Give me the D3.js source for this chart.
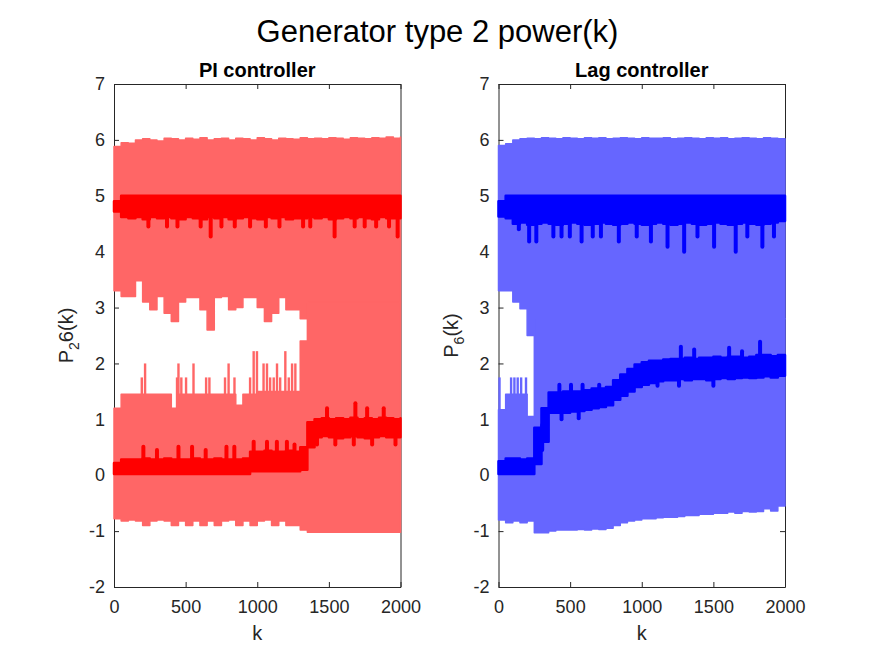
<!DOCTYPE html>
<html>
<head>
<meta charset="utf-8">
<script src="https://cdn.jsdelivr.net/npm/d3@7"></script>
<style>
body { margin: 0; background: #fff; }
svg text { font-family: "Liberation Sans", Arial, Helvetica, sans-serif; }
</style>
</head>
<body>
<div id="container"></div>
<script>
// sample grid for k (every 50 steps), shared by both panels
const K = [0,50,100,150,200,250,300,350,400,450,
           500,550,600,650,700,750,800,850,900,950,
           1000,1050,1100,1150,1200,1250,1300,1350,1400,1450,
           1500,1550,1600,1650,1700,1750,1800,1850,1900,1950,
           2000];

const xTicks = [0,500,1000,1500,2000];
const yTicks = [-2,-1,0,1,2,3,4,5,6,7];

// ---- PI controller ----
// light band: top edge, bottom of upper part, top of lower part, bottom edge
const piTop = [5.88,5.95,5.94,6.00,6.02,6.00,5.98,6.03,6.02,6.00,
               6.03,6.01,6.04,6.00,6.02,6.03,6.00,6.03,6.02,6.00,
               6.04,6.02,6.00,6.03,6.02,6.01,6.04,6.02,6.03,6.02,
               6.04,6.03,6.01,6.04,6.03,6.02,6.04,6.03,6.05,6.03,
               6.05];
const piGapHi = [3.30,3.20,3.20,3.48,3.10,2.96,3.20,2.90,2.75,3.10,
                 3.18,3.18,2.96,2.60,3.18,3.20,2.96,3.00,3.18,3.18,
                 3.00,2.75,2.90,3.18,2.96,2.96,2.80,3.10,3.10,3.10,
                 3.10,3.10,3.10,3.10,3.10,3.10,3.10,3.10,3.10,3.10,
                 3.10];
const piGapLo = [1.20,1.45,1.45,1.45,1.45,1.45,1.45,1.45,1.20,1.45,
                 1.45,1.45,1.45,1.45,1.45,1.45,1.45,1.25,1.45,1.45,
                 1.50,1.50,1.50,1.50,1.50,1.50,2.40,3.10,3.10,3.10,
                 3.10,3.10,3.10,3.10,3.10,3.10,3.10,3.10,3.10,3.10,
                 3.10];
const piBot = [-0.78,-0.82,-0.80,-0.82,-0.90,-0.82,-0.80,-0.82,-0.90,-0.82,
               -0.90,-0.82,-0.90,-0.82,-0.90,-0.82,-0.80,-0.90,-0.82,-0.90,
               -0.82,-0.80,-0.90,-0.82,-0.90,-0.90,-0.98,-1.02,-1.02,-1.02,
               -1.02,-1.02,-1.02,-1.02,-1.02,-1.02,-1.02,-1.02,-1.02,-1.02,
               -1.02];
const piGapSpikes = [[194,1.75],[217,2.0],[440,1.75],[450,2.0],[470,1.75],[503,1.75],
                     [555,2.0],[643,1.75],[666,1.75],[775,1.75],[800,2.0],[841,1.75],
                     [950,1.75],[975,2.22],[998,2.22],[1044,2.0],[1068,2.0],[1090,1.75],
                     [1115,1.75],[1138,2.0],[1160,1.75],[1196,2.22],[1220,1.75],
                     [1243,2.0],[1266,2.0]];
// dark lines
const piDarkHiTop = [4.90,5.00,5.00,5.00,5.00,5.00,5.00,5.00,5.00,5.00,
                     5.00,5.00,5.00,5.00,5.00,5.00,5.00,5.00,5.00,5.00,
                     5.00,5.00,5.00,5.00,5.00,5.00,5.00,5.00,5.00,5.00,
                     5.00,5.00,5.00,5.00,5.00,5.00,5.00,5.00,5.00,5.00,
                     5.00];
const piDarkHiBot = [4.72,4.62,4.60,4.62,4.58,4.62,4.60,4.62,4.60,4.58,
                     4.62,4.60,4.58,4.62,4.60,4.62,4.58,4.60,4.62,4.60,
                     4.58,4.62,4.60,4.62,4.58,4.60,4.60,4.62,4.60,4.62,
                     4.58,4.60,4.62,4.60,4.62,4.60,4.58,4.62,4.60,4.60,
                     4.62];
const piDarkLoTop = [0.22,0.28,0.28,0.28,0.30,0.28,0.28,0.30,0.28,0.28,
                     0.28,0.30,0.28,0.28,0.30,0.28,0.28,0.28,0.30,0.42,
                     0.42,0.44,0.42,0.42,0.44,0.42,0.50,0.95,1.00,1.02,
                     1.00,1.02,1.00,1.03,1.00,1.02,1.00,1.03,1.02,1.00,
                     1.02];
const piDarkLoBot = [0.02,0.02,0.02,0.02,0.02,0.02,0.02,0.02,0.02,0.02,
                     0.02,0.02,0.02,0.02,0.02,0.02,0.02,0.02,0.02,0.07,
                     0.07,0.07,0.07,0.07,0.07,0.07,0.10,0.50,0.68,0.70,
                     0.68,0.66,0.68,0.70,0.68,0.66,0.68,0.70,0.68,0.68,
                     0.70];
const piDarkHiSpikes = [[240,4.45],[370,4.45],[443,4.45],[605,4.45],[675,4.27],[750,4.45],
                        [843,4.45],[950,4.45],[1060,4.45],[1155,4.45],[1320,4.45],[1370,4.45],
                        [1540,4.27],[1680,4.45],[1750,4.45],[1830,4.45],[1920,4.45],[1980,4.27]];
const piDarkLoSpikes = [[205,0.51],[300,0.45],[450,0.51],[545,0.51],[640,0.45],[785,0.51],
                        [840,0.51],[975,0.6],[1068,0.6],[1137,0.6],[1207,0.6],[1260,0.55],
                        [1487,1.2],[1685,1.29],[1767,1.2],[1883,1.2],
                        [1417,0.55],[1545,0.55],[1674,0.55],[1802,0.55],[1965,0.55]];

// ---- Lag controller ----
const lagTop = [5.90,5.93,6.00,6.02,6.03,6.02,6.04,6.03,6.02,6.04,
                6.03,6.02,6.04,6.03,6.04,6.02,6.03,6.04,6.03,6.02,
                6.04,6.03,6.03,6.04,6.02,6.03,6.04,6.03,6.02,6.04,
                6.03,6.04,6.02,6.03,6.04,6.03,6.02,6.04,6.03,6.02,
                6.00];
const lagGapHi = [3.30,3.30,3.10,2.98,2.50,2.80,2.80,2.80,2.80,2.80,
                  2.80,2.80,2.80,2.80,2.80,2.80,2.80,2.80,2.80,2.80,
                  2.80,2.80,2.80,2.80,2.80,2.80,2.80,2.80,2.80,2.80,
                  2.80,2.80,2.80,2.80,2.80,2.80,2.80,2.80,2.80,2.80,
                  2.80];
const lagGapLo = [1.17,1.45,1.45,1.45,1.05,2.80,2.80,2.80,2.80,2.80,
                  2.80,2.80,2.80,2.80,2.80,2.80,2.80,2.80,2.80,2.80,
                  2.80,2.80,2.80,2.80,2.80,2.80,2.80,2.80,2.80,2.80,
                  2.80,2.80,2.80,2.80,2.80,2.80,2.80,2.80,2.80,2.80,
                  2.80];
const lagBot = [-0.80,-0.85,-0.82,-0.85,-0.82,-1.03,-1.03,-1.00,-0.98,-0.98,
                -0.98,-0.97,-0.98,-0.96,-0.97,-0.95,-0.90,-0.85,-0.82,-0.80,
                -0.78,-0.78,-0.76,-0.75,-0.75,-0.74,-0.72,-0.72,-0.70,-0.70,
                -0.68,-0.68,-0.66,-0.68,-0.65,-0.66,-0.65,-0.60,-0.64,-0.55,
                -0.45];
const lagGapSpikes = [[7,1.75],[88,1.75],[111,1.75],[134,1.75],[158,1.75],[192,1.75]];
const lagDarkHiTop = [4.90,5.00,5.00,5.00,5.00,5.00,5.00,5.00,5.00,5.00,
                      5.00,5.00,5.00,5.00,5.00,5.00,5.00,5.00,5.00,5.00,
                      5.00,5.00,5.00,5.00,5.00,5.00,5.00,5.00,5.00,5.00,
                      5.00,5.00,5.00,5.00,5.00,5.00,5.00,5.00,5.00,5.00,
                      5.00];
const lagDarkHiBot = [4.63,4.60,4.50,4.52,4.48,4.50,4.52,4.50,4.48,4.50,
                      4.52,4.50,4.48,4.50,4.52,4.50,4.48,4.50,4.52,4.50,
                      4.48,4.50,4.52,4.50,4.48,4.50,4.52,4.50,4.48,4.50,
                      4.52,4.50,4.48,4.50,4.52,4.50,4.48,4.50,4.52,4.55,
                      4.60];
const lagDarkLoTop = [0.25,0.30,0.30,0.28,0.30,0.85,1.20,1.48,1.48,1.50,
                      1.50,1.50,1.52,1.55,1.55,1.58,1.70,1.80,1.90,1.98,
                      2.02,2.05,2.05,2.07,2.08,2.08,2.10,2.08,2.10,2.10,
                      2.12,2.10,2.12,2.12,2.10,2.12,2.15,2.15,2.13,2.15,
                      2.12];
const lagDarkLoBot = [0.02,0.02,0.02,0.02,0.02,0.20,0.60,1.12,1.12,1.12,
                      1.14,1.15,1.17,1.20,1.22,1.25,1.35,1.42,1.50,1.58,
                      1.62,1.65,1.68,1.70,1.70,1.72,1.70,1.72,1.72,1.70,
                      1.72,1.74,1.72,1.74,1.75,1.74,1.75,1.77,1.75,1.78,
                      1.85];
const lagDarkHiSpikes = [[142,4.4],[214,4.18],[264,4.18],[383,4.27],[440,4.27],[498,4.27],
                         [580,4.18],[658,4.27],[715,4.27],[840,4.18],[965,4.27],[1064,4.18],
                         [1180,4.09],[1296,4.0],[1389,4.27],[1505,4.09],[1656,4.0],[1737,4.27],
                         [1842,4.09],[1923,4.27]];
const lagDarkLoSpikes = [[425,1.62],[506,1.62],[587,1.62],[703,1.62],[1273,2.3],[1366,2.25],
                         [1610,2.28],[1700,2.22],[1826,2.39],
                         [305,0.45],[440,1.0],[560,1.02],[1110,1.6],[1260,1.6],[1500,1.6]];

const W = 875, H = 656;
const axTop = 84, axH = 503, axW = 286.5;
const ink = "#262626";

const svg = d3.select("#container")
              .append("svg")
              .attr("width", W)
              .attr("height", H);

svg.append("text")
   .attr("x", 437.5)
   .attr("y", 42)
   .attr("text-anchor", "middle")
   .attr("font-size", 31)
   .attr("fill", "#000")
   .text("Generator type 2 power(k)");

drawPanel(114, {
  title: "PI controller", sub: "2", after: "6(k)",
  light: "#ff6666", dark: "#ff0000",
  top: piTop, gapHi: piGapHi, gapLo: piGapLo, bot: piBot, gapSpikes: piGapSpikes,
  dhT: piDarkHiTop, dhB: piDarkHiBot, dlT: piDarkLoTop, dlB: piDarkLoBot,
  hiSpikes: piDarkHiSpikes, loSpikes: piDarkLoSpikes
});

drawPanel(498.5, {
  title: "Lag controller", sub: "6", after: "(k)",
  light: "#6666ff", dark: "#0000ff",
  top: lagTop, gapHi: lagGapHi, gapLo: lagGapLo, bot: lagBot, gapSpikes: lagGapSpikes,
  dhT: lagDarkHiTop, dhB: lagDarkHiBot, dlT: lagDarkLoTop, dlB: lagDarkLoBot,
  hiSpikes: lagDarkHiSpikes, loSpikes: lagDarkLoSpikes
});

function drawPanel(left, p){
  const g = svg.append("g").attr("transform", "translate(" + left + "," + axTop + ")");

  const xScale = d3.scaleLinear().domain([0, 2000]).range([0, axW]);
  const yScale = d3.scaleLinear().domain([-2, 7]).range([axH, 0]);

  // axes box with inward ticks
  const fmt = (d) => String(d);
  g.append("g")
   .attr("transform", "translate(0," + axH + ")")
   .call(d3.axisBottom(xScale).tickValues(xTicks).tickFormat(fmt)
           .tickSizeInner(-5).tickSizeOuter(0).tickPadding(13));
  g.append("g")
   .call(d3.axisTop(xScale).tickValues(xTicks).tickFormat(() => "")
           .tickSizeInner(-5).tickSizeOuter(0));
  g.append("g")
   .call(d3.axisLeft(yScale).tickValues(yTicks).tickFormat(fmt)
           .tickSizeInner(-5).tickSizeOuter(0).tickPadding(9));
  g.append("g")
   .attr("transform", "translate(" + axW + ",0)")
   .call(d3.axisRight(yScale).tickValues(yTicks).tickFormat(() => "")
           .tickSizeInner(-5).tickSizeOuter(0));
  g.selectAll(".domain, .tick line").attr("stroke", ink).attr("stroke-width", 1);
  g.selectAll(".tick text").attr("fill", ink).attr("font-size", 18).attr("font-family", null);

  const rows = K.map((k, i) => ({
    k: k, top: p.top[i], gapHi: p.gapHi[i], gapLo: p.gapLo[i], bot: p.bot[i],
    dhT: p.dhT[i], dhB: p.dhB[i], dlT: p.dlT[i], dlB: p.dlB[i]
  }));
  const rowAt = (k) => rows[Math.max(0, d3.bisectRight(K, k) - 1)];

  const band = (lo, hi) => d3.area()
    .x((d) => xScale(d.k))
    .y0((d) => yScale(d[lo]))
    .y1((d) => yScale(d[hi]))
    .curve(d3.curveStepAfter);

  // light oscillation envelope
  [["gapHi", "top"], ["bot", "gapLo"]].forEach(([lo, hi]) => {
    g.append("path")
     .datum(rows)
     .attr("d", band(lo, hi))
     .attr("fill", p.light)
     .attr("stroke", p.light)
     .attr("stroke-width", 1.5)
     .attr("stroke-linejoin", "round");
  });
  g.selectAll(".gapspike")
   .data(p.gapSpikes)
   .enter()
   .append("line")
   .attr("x1", (d) => xScale(d[0]))
   .attr("x2", (d) => xScale(d[0]))
   .attr("y1", (d) => yScale(rowAt(d[0]).gapLo))
   .attr("y2", (d) => yScale(d[1]))
   .attr("stroke", p.light)
   .attr("stroke-width", 2.4);

  // dark mean lines
  [["dhB", "dhT"], ["dlB", "dlT"]].forEach(([lo, hi]) => {
    g.append("path")
     .datum(rows)
     .attr("d", band(lo, hi))
     .attr("fill", p.dark)
     .attr("stroke", p.dark)
     .attr("stroke-width", 2.5)
     .attr("stroke-linejoin", "round");
  });
  const spikes = p.hiSpikes.map((d) => [d[0], d[1], "dhT", "dhB"])
                  .concat(p.loSpikes.map((d) => [d[0], d[1], "dlT", "dlB"]));
  g.selectAll(".darkspike")
   .data(spikes)
   .enter()
   .append("line")
   .attr("x1", (d) => xScale(d[0]))
   .attr("x2", (d) => xScale(d[0]))
   .attr("y1", (d) => { const r = rowAt(d[0]); return yScale((r[d[2]] + r[d[3]]) / 2); })
   .attr("y2", (d) => yScale(d[1]))
   .attr("stroke", p.dark)
   .attr("stroke-width", 4)
   .attr("stroke-linecap", "round");

  // titles and labels
  g.append("text")
   .attr("x", axW / 2)
   .attr("y", -7)
   .attr("text-anchor", "middle")
   .attr("font-size", 20)
   .attr("font-weight", "bold")
   .attr("fill", "#000")
   .text(p.title);

  g.append("text")
   .attr("x", axW / 2)
   .attr("y", axH + 53)
   .attr("text-anchor", "middle")
   .attr("font-size", 20)
   .attr("fill", ink)
   .text("k");

  const yl = g.append("text")
   .attr("transform", "translate(-41," + (axH / 2) + ") rotate(-90)")
   .attr("text-anchor", "middle")
   .attr("font-size", 20)
   .attr("fill", ink);
  yl.append("tspan").text("P");
  yl.append("tspan").attr("dy", 6).attr("font-size", 14).text(p.sub);
  yl.append("tspan").attr("dy", -6).text(p.after);
}
</script>
</body>
</html>
